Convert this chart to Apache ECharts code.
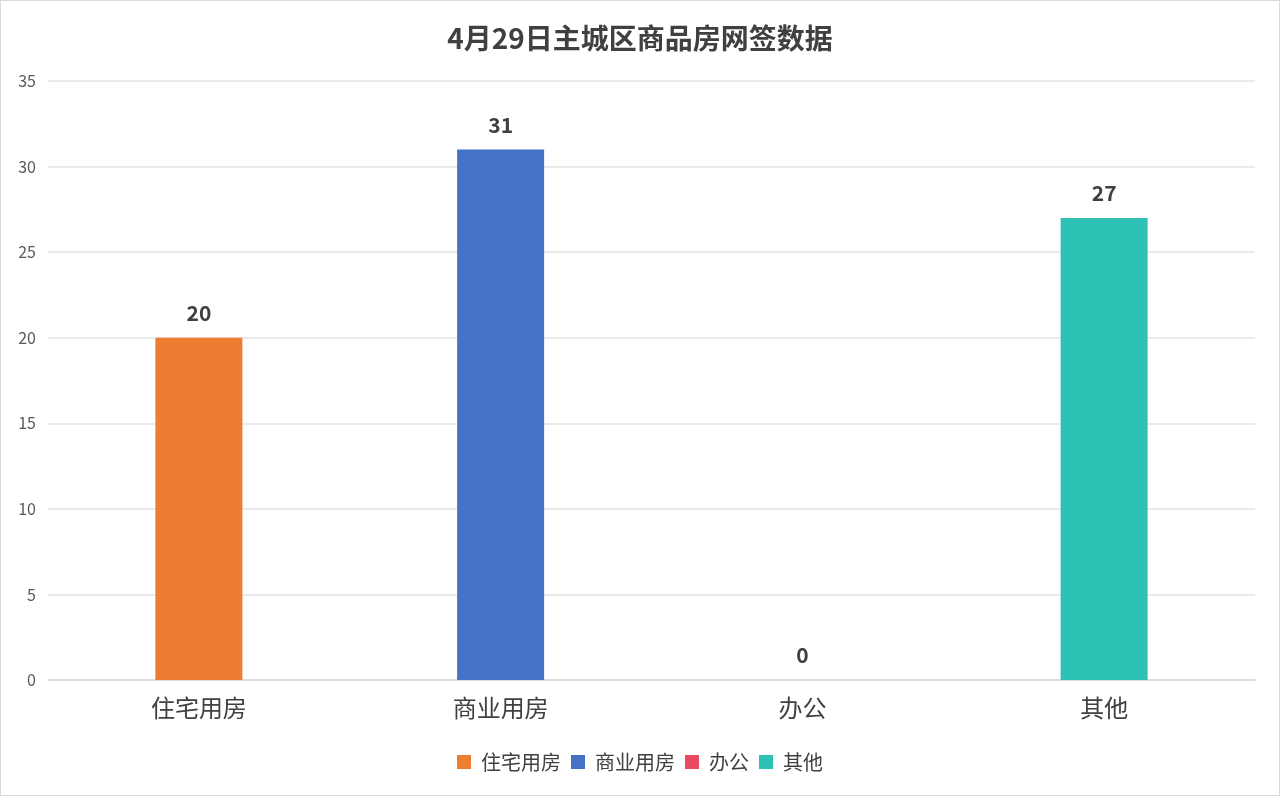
<!DOCTYPE html>
<html>
<head>
<meta charset="utf-8">
<script src="https://cdn.jsdelivr.net/npm/echarts@6/dist/echarts.min.js"></script>
<style>
  html, body { margin: 0; padding: 0; background: #fff; }
  #chart { width: 1278px; height: 794px; border: 1px solid #d9d9d9; }
</style>
</head>
<body>
<div id="chart"></div>
<script>
var categories = ['住宅用房', '商业用房', '办公', '其他'];
var values = [20, 31, 0, 27];
var colors = ['#ED7D31', '#4472C4', '#E84B5F', '#2EC1B5'];
var yTicks = { min: 0, max: 35, interval: 5 };

var font = '"Noto Sans CJK SC", "Microsoft YaHei", sans-serif';

// one series per category so each gets its own legend entry; stacked to keep bars centred
var series = categories.map(function (name, i) {
    var data = categories.map(function (c, j) { return j === i ? values[i] : null; });
    return {
        name: name,
        type: 'bar',
        stack: 'all',
        barWidth: 87,
        data: data,
        itemStyle: { color: colors[i] },
        label: {
            show: true,
            position: 'top',
            distance: 14,
            color: '#404040',
            fontSize: 21,
            fontWeight: 'bold',
            fontFamily: font
        }
    };
});

var option = {
    animation: false,
    title: {
        text: '4月29日主城区商品房网签数据',
        left: 'center',
        top: 18,
        textStyle: { color: '#404040', fontSize: 28, fontWeight: 'bold', fontFamily: font }
    },
    legend: {
        bottom: 18,
        left: 'center',
        itemWidth: 14,
        itemHeight: 14,
        itemGap: 10,
        icon: 'rect',
        textStyle: { color: '#404040', fontSize: 20, fontFamily: font, padding: [0, 0, 0, 5] },
        data: categories
    },
    grid: { left: 47, right: 24, top: 80, bottom: 115, containLabel: false },
    xAxis: {
        type: 'category',
        data: categories,
        axisLine: { lineStyle: { color: '#d9d9d9', width: 1.5 } },
        axisTick: { show: false },
        axisLabel: { color: '#404040', fontSize: 24, margin: 16, fontFamily: font }
    },
    yAxis: {
        type: 'value',
        min: yTicks.min,
        max: yTicks.max,
        interval: yTicks.interval,
        axisLine: { show: false },
        axisTick: { show: false },
        axisLabel: { color: '#595959', fontSize: 16, margin: 12, fontFamily: font },
        splitLine: { lineStyle: { color: '#e3e3e3', width: 1.5 } }
    },
    series: series
};

var chart = echarts.init(document.getElementById('chart'));
chart.setOption(option);
</script>
</body>
</html>
